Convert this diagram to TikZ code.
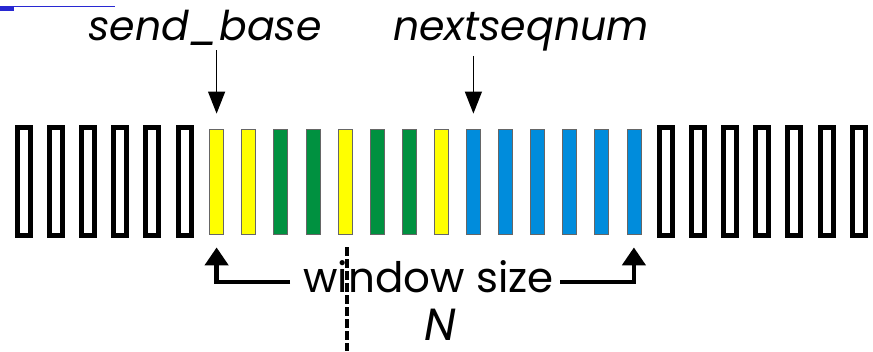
\documentclass[tikz,border=0pt]{standalone}
\usepackage{fontspec}
\setmainfont{Poppins}
\usetikzlibrary{arrows.meta,positioning,calc}

\definecolor{ackyellow}{RGB}{255,255,0}
\definecolor{sentgreen}{RGB}{0,145,64}
\definecolor{usableblue}{RGB}{0,140,220}
\definecolor{linkblue}{RGB}{40,40,210}

\begin{document}
\begin{tikzpicture}[x=1pt, y=-1pt,
		slot/.style       = {rectangle, inner sep=0pt},
		slotfree/.style   = {slot, draw=black, line width=5pt, fill=white, minimum width=13pt, minimum height=108pt},
		slotfill/.style   = {slot, draw=black!60, line width=0.8pt, minimum width=14pt, minimum height=105pt},
		slotyellow/.style = {slotfill, fill=ackyellow},
		slotgreen/.style  = {slotfill, fill=sentgreen},
		slotblue/.style   = {slotfill, fill=usableblue},
		ptrtext/.style    = {inner sep=0pt, font=\fontsize{41}{43}\selectfont\itshape},
		wintext/.style    = {inner sep=0pt, font=\fontsize{42}{44}\selectfont},
		pointer/.style    = {-{Triangle[length=22pt,width=17pt]}, line width=1.2pt},
		winarrow/.style   = {-{Triangle[length=18pt,width=23pt]}, line width=4.5pt},
		cutline/.style    = {line width=4.5pt, dash pattern=on 9pt off 3pt},
		>=latex]
		
		\useasboundingbox (0,0) rectangle (873,351);
		
		% link underline in the corner
		\draw[linkblue, line width=1.5pt] (0,6.5) -- (115,6.5);
		\fill[linkblue] (0,7) rectangle (14,11);
		
		% the row of sequence numbers
		\foreach \kind [count=\i from 0] in {free,free,free,free,free,free,yellow,yellow,green,green,yellow,green,green,yellow,blue,blue,blue,blue,blue,blue,free,free,free,free,free,free,free}
		\node[slot\kind] (s\i) at (24+32.1*\i, 181.5) {};
		
		% pointers above the row
		\node[ptrtext, anchor=base] (base) at (205,40) {send\_base};
		\node[ptrtext, anchor=base] (next) at (521,40) {nextseqnum};
		
		\draw[pointer, shorten <=5pt, shorten >=15pt] (s6 |- base.south) -- (s6.north);
		\draw[pointer, shorten <=5pt, shorten >=15pt] (s14 |- next.south) -- (s14.north);
		
		% window size below the row
		\node[wintext, anchor=base] (win) at (428.5,292) {window size};
		\node[ptrtext, anchor=base, font=\fontsize{45}{47}\selectfont\itshape] (n) at (440,340) {N};
		\coordinate (wl) at (290,282);
		\coordinate (wr) at (560,282);
		\coordinate (cut) at (347,351);
		
		\draw[winarrow, shorten >=13pt] (wl) -| (s6.south);
		\draw[winarrow, shorten >=13pt] (wr) -| (s19.south);
		
		\draw[cutline, shorten <=13pt] (s10.south -| cut) -- (cut);
		
	\end{tikzpicture}
\end{document}
